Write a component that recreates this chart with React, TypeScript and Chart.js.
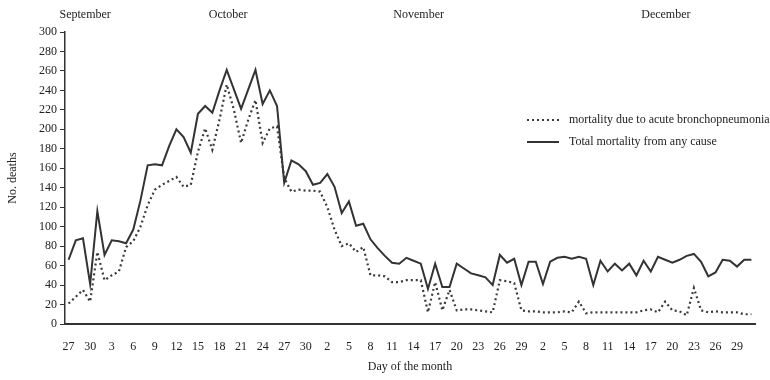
import { useEffect, useRef } from 'react';
import { Chart, registerables } from 'chart.js';

Chart.register(...registerables);

// ---- data ----
const monthNames = ['September', 'October', 'November', 'December'];
const monthDayRanges: [number, number][] = [
  [27, 30],
  [1, 31],
  [1, 30],
  [1, 31],
];
const dayLabels: string[] = [];
monthDayRanges.forEach(([a, b]) => {
  for (let d = a; d <= b; d++) dayLabels.push(String(d));
});

const bronchopneumonia = [
  21, 28, 35, 23, 74, 45, 50, 54, 79, 85,
  100, 122, 138, 143, 147, 151, 141, 143, 177, 201,
  179, 210, 246, 220, 186, 210, 230, 186, 201, 203,
  150, 136, 138, 137, 137, 136, 120, 97, 80, 83,
  74, 79, 50, 50, 49, 43, 43, 45, 45, 45,
  12, 43, 14, 35, 14, 15, 15, 14, 13, 12,
  45, 44, 42, 14, 13, 13, 12, 12, 12, 13,
  12, 23, 11, 12, 12, 12, 12, 12, 12, 12,
  14, 15, 12, 23, 14, 13, 9, 37, 14, 12,
  13, 12, 12, 12, 10, 10,
];

const totalMortality = [
  66, 86, 88, 41, 116, 71, 86, 85, 83, 97,
  127, 163, 164, 163, 183, 200, 192, 176, 216, 224,
  217, 240, 261, 241, 221, 241, 261, 226, 240, 224,
  145, 168, 164, 157, 143, 145, 154, 141, 114, 126,
  101, 103, 87, 78, 70, 63, 62, 68, 65, 62,
  36, 62, 38, 38, 62, 57, 52, 50, 48, 40,
  71, 63, 67, 40, 64, 64, 41, 64, 68, 69,
  67, 69, 67, 40, 65, 54, 62, 55, 62, 50,
  65, 54, 69, 66, 63, 66, 70, 72, 64, 49,
  53, 66, 65, 59, 66, 66,
];

const seriesLabels = ['mortality due to acute bronchopneumonia', 'Total mortality from any cause'];

// ---- styling ----
const FONT_FAMILY = '"Liberation Serif", "DejaVu Serif", serif';
const TEXT_COLOR = '#222';
const AXIS_COLOR = '#333';
const monthLabelAnchors = [2.3, 22.2, 48.7, 83.1];

const monthPlugin = {
  id: 'monthLabels',
  afterDraw(chart: any) {
    const ctx = chart.ctx;
    const xs = chart.scales.x;
    ctx.save();
    ctx.font = `12px ${FONT_FAMILY}`;
    ctx.fillStyle = TEXT_COLOR;
    ctx.textAlign = 'center';
    ctx.textBaseline = 'middle';
    monthNames.forEach((m, i) => {
      ctx.fillText(m, xs.getPixelForValue(monthLabelAnchors[i]), 15);
    });
    ctx.restore();
  },
};

const legendPlugin = {
  id: 'customLegend',
  afterDraw(chart: any) {
    const ctx = chart.ctx;
    const { right, top } = chart.chartArea;
    ctx.save();
    ctx.font = `12px ${FONT_FAMILY}`;
    ctx.textBaseline = 'middle';
    ctx.textAlign = 'left';
    chart.data.datasets.forEach((ds: any, i: number) => {
      const y = top + 88 + i * 22;
      const x0 = right - 228;
      ctx.beginPath();
      ctx.strokeStyle = ds.borderColor;
      ctx.lineWidth = ds.borderWidth;
      ctx.setLineDash(ds.borderDash || []);
      ctx.moveTo(x0, y);
      ctx.lineTo(x0 + 32, y);
      ctx.stroke();
      ctx.setLineDash([]);
      ctx.fillStyle = TEXT_COLOR;
      ctx.fillText(ds.label, right - 186, y);
    });
    ctx.restore();
  },
};

export default function App() {
  const canvasRef = useRef<HTMLCanvasElement | null>(null);

  useEffect(() => {
    document.body.style.margin = '0';
    const canvas = canvasRef.current;
    if (!canvas) return;
    const font = { family: FONT_FAMILY, size: 12 };
    const chart = new Chart(canvas, {
      type: 'line',
      data: {
        labels: dayLabels,
        datasets: [
          {
            label: seriesLabels[0],
            data: bronchopneumonia,
            borderColor: '#3a3a3a',
            borderWidth: 2.2,
            borderDash: [2, 3],
            pointRadius: 0,
            tension: 0,
            fill: false,
          },
          {
            label: seriesLabels[1],
            data: totalMortality,
            borderColor: '#333333',
            borderWidth: 2,
            pointRadius: 0,
            tension: 0,
            fill: false,
          },
        ],
      },
      options: {
        animation: false,
        responsive: false,
        devicePixelRatio: 1,
        layout: { padding: { top: 32, right: 15, left: 0, bottom: 0 } },
        plugins: {
          legend: { display: false },
          tooltip: { enabled: false },
        },
        scales: {
          x: {
            type: 'category',
            offset: true,
            grid: { display: false },
            border: { display: true, color: AXIS_COLOR, width: 2 },
            ticks: {
              autoSkip: false,
              maxRotation: 0,
              minRotation: 0,
              padding: 8,
              font,
              color: TEXT_COLOR,
              callback: (_v: any, i: number) => (i % 3 === 0 ? dayLabels[i] : ''),
            },
            title: {
              display: true,
              text: 'Day of the month',
              font,
              color: TEXT_COLOR,
              padding: { top: 4, bottom: 6 },
            },
            afterFit: (s: any) => {
              s.height = 56;
            },
          },
          y: {
            min: 0,
            max: 300,
            ticks: { stepSize: 20, padding: 3, font, color: TEXT_COLOR },
            grid: { drawOnChartArea: false, drawTicks: true, tickLength: 5, color: AXIS_COLOR },
            border: { display: true, color: AXIS_COLOR, width: 1.5 },
            title: {
              display: true,
              text: 'No. deaths',
              font,
              color: TEXT_COLOR,
              padding: { top: 6, bottom: 0 },
            },
            afterFit: (s: any) => {
              s.width = 65;
            },
          },
        },
      } as any,
      plugins: [monthPlugin, legendPlugin],
    });
    return () => chart.destroy();
  }, []);

  return (
    <div style={{ width: 770, height: 380, background: '#fff' }}>
      <canvas ref={canvasRef} width={770} height={380} />
    </div>
  );
}
